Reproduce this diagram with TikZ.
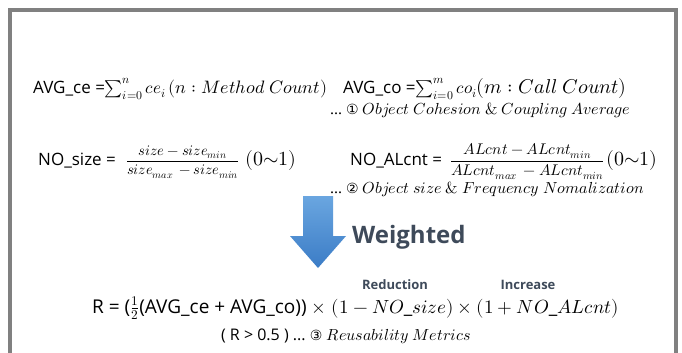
\documentclass[tikz,border=0pt]{standalone}
\usepackage{fontspec}
\usepackage{unicode-math}
\setmainfont{Liberation Serif}
\setsansfont{Open Sans}
\setmathfont{Latin Modern Math}
\newfontfamily\symfont{DejaVu Sans}
\usetikzlibrary{positioning}
\definecolor{slate}{HTML}{3E4A5A}
\definecolor{framegray}{HTML}{808080}
\definecolor{arrowtop}{HTML}{6AA6E0}
\definecolor{arrowbot}{HTML}{3B7CC6}
\newcommand{\circnum}[1]{{\symfont\fontsize{14}{15}\selectfont #1}}
\newcommand{\fracbig}[3]{{\fontsize{#1}{16}\selectfont$\dfrac{#2}{#3}$}}
\newcommand{\bigmath}[2][20]{{\fontsize{#1}{22}\selectfont$#2$}}
\begin{document}
\begin{tikzpicture}[x=1pt,y=-1pt,
  frame/.style={framegray,line width=3.5pt},
  formula/.style={anchor=base west,inner sep=0pt,font=\fontsize{17}{20}\selectfont},
  note/.style={anchor=base west,inner sep=0pt,font=\fontsize{16}{18}\selectfont},
  tag/.style={anchor=base,inner sep=0pt,text=slate,font=\sffamily\bfseries\fontsize{13}{15}\selectfont}]
  \useasboundingbox (0,0) rectangle (682,353);
  \draw[frame] (10,360) -- (10,10) -- (676,10) -- (676,360);
  \node[formula] (avgce) at (33,93) {\sffamily AVG\_ce =$\sum\nolimits_{i=0}^{n} ce_i$\,\bigmath[18]{(n : Method\ Count)}};
  \node[formula] (avgco) at (343,93) {\sffamily AVG\_co =$\sum\nolimits_{i=0}^{m} co_i$\bigmath{(m : Call\ Count)}};
  \node[note] (cohesion) at (330,114) {...~\circnum{①}~$Object\ Cohesion\ \&\ Coupling\ Average$};
  \node[formula] (nosize) at (38,165) {\sffamily NO\_size =\hspace{10pt}\fracbig{14.5}{size-size_{min}}{size_{max}\,-size_{min}}\hspace{6pt}\bigmath{(0{\sim}1)}};
  \node[formula] (noalcnt) at (350,165) {\sffamily NO\_ALcnt =\hspace{8pt}\fracbig{15.5}{ALcnt-ALcnt_{min}}{ALcnt_{max}\,-ALcnt_{min}}\hspace{2pt}\bigmath{(0{\sim}1)}};
  \node[note] (normal) at (330,193) {...~\circnum{②}~$Object\ size\ \&\ Frequency\ Nomalization$};
  \shade[top color=arrowtop,bottom color=arrowbot] (303,196) -- (333,196) -- (333,236) -- (346,236) -- (318,268) -- (290,236) -- (303,236) -- cycle;
  \node[anchor=base west,inner sep=0pt,text=slate,font=\sffamily\bfseries\fontsize{24}{28}\selectfont] (weighted) at (352,243) {Weighted};
  \node[formula,font=\fontsize{19}{24}\selectfont] (reuse) at (92,313) {\sffamily R = ($\frac{1}{2}$(AVG\_ce + AVG\_co))$\;\times\;(1-NO\_size)\times(1+NO\_ALcnt)$};
  \node[tag] (reduction) at (395,289) {Reduction};
  \node[tag] (increase) at (528,289) {Increase};
  \node[anchor=base,inner sep=0pt,font=\fontsize{16}{18}\selectfont] (metric) at (346,340) {\sffamily ( R > 0.5 ) ...~\circnum{③}~$Reusability\ Metrics$};
\end{tikzpicture}
\end{document}
